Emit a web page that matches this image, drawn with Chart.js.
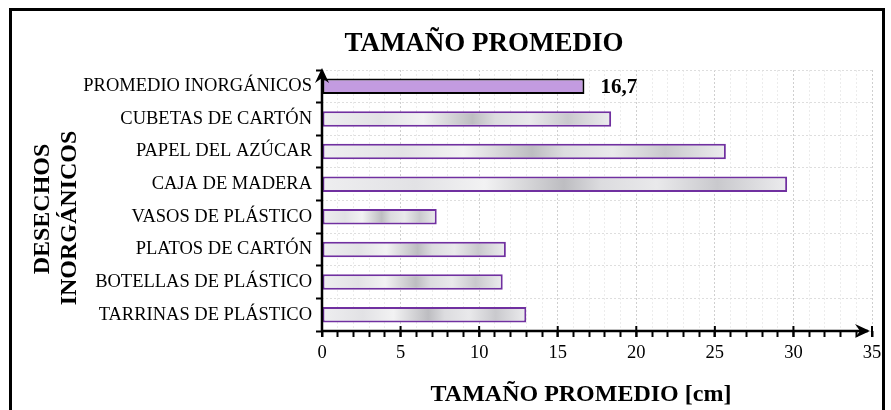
<!DOCTYPE html>
<html lang="es">
<head>
    <meta charset="UTF-8">
    <title>Tamaño promedio</title>
    <script src="https://cdn.jsdelivr.net/npm/chart.js"></script>
    <style>
        body { margin: 0; background: #fff; }
        .chart-box { width: 891px; height: 410px; }
    </style>
</head>
<body>
    <div class="chart-box">
        <canvas id="sizeChart" width="891" height="410"></canvas>
    </div>

    <script>
        // datos
        const categories = ['PROMEDIO INORGÁNICOS', 'CUBETAS DE CARTÓN', 'PAPEL DEL AZÚCAR', 'CAJA DE MADERA',
            'VASOS DE PLÁSTICO', 'PLATOS DE CARTÓN', 'BOTELLAS DE PLÁSTICO', 'TARRINAS DE PLÁSTICO'];
        const sizes = [16.7, 18.4, 25.7, 29.6, 7.3, 11.7, 11.5, 13.0];
        const averageLabel = '16,7';
        const xTicks = [0, 5, 10, 15, 20, 25, 30, 35];

        const serif = "'Liberation Serif', 'Times New Roman', serif";

        // relleno gris "marmol" de las barras
        function marbleFill(ctx) {
            const chart = ctx.chart;
            const xs = chart.scales.x;
            if (!xs || ctx.dataIndex === undefined) return '#e6e6e8';
            if (ctx.dataIndex === 0) return '#c39be0';
            const x0 = xs.getPixelForValue(0);
            const x1 = xs.getPixelForValue(sizes[ctx.dataIndex]);
            const g = chart.ctx.createLinearGradient(x0, 0, x1, 0);
            g.addColorStop(0, '#eeeef0');
            g.addColorStop(0.2, '#e2e2e5');
            g.addColorStop(0.35, '#f2f2f3');
            g.addColorStop(0.52, '#bdbdc1');
            g.addColorStop(0.6, '#dcdcdf');
            g.addColorStop(0.72, '#e9e9eb');
            g.addColorStop(0.85, '#c9c9cd');
            g.addColorStop(1, '#ececee');
            return g;
        }

        function arrowHead(ctx, x, y, angle) {
            ctx.save();
            ctx.translate(x, y);
            ctx.rotate(angle);
            ctx.beginPath();
            ctx.moveTo(0, 0);
            ctx.lineTo(-15, -7);
            ctx.lineTo(-10, 0);
            ctx.lineTo(-15, 7);
            ctx.closePath();
            ctx.fill();
            ctx.restore();
        }

        const decorations = {
            id: 'decorations',
            beforeDraw(chart) {
                const ctx = chart.ctx;
                ctx.save();
                ctx.fillStyle = '#fff';
                ctx.fillRect(0, 0, chart.width, chart.height);
                ctx.restore();
            },
            afterDraw(chart) {
                const ctx = chart.ctx;
                const area = chart.chartArea;
                const xs = chart.scales.x;
                ctx.save();

                // marco exterior
                ctx.strokeStyle = '#000';
                ctx.fillStyle = '#000';
                ctx.lineWidth = 3;
                ctx.strokeRect(10.5, 9.5, 873, 420);

                // ejes con flechas
                ctx.lineWidth = 2.5;
                ctx.beginPath();
                ctx.moveTo(area.left, area.bottom);
                ctx.lineTo(area.left, area.top + 4);
                ctx.moveTo(area.left, area.bottom);
                ctx.lineTo(area.right - 4, area.bottom);
                ctx.stroke();
                arrowHead(ctx, area.left, area.top - 2, -Math.PI / 2);
                arrowHead(ctx, area.right - 2, area.bottom, 0);

                // marcas mayores cruzando el eje
                ctx.lineWidth = 2;
                xTicks.forEach(v => {
                    const px = xs.getPixelForValue(v);
                    ctx.beginPath();
                    ctx.moveTo(px, area.bottom - 5);
                    ctx.lineTo(px, area.bottom + 6);
                    ctx.stroke();
                });

                // titulos
                ctx.textAlign = 'center';
                ctx.textBaseline = 'middle';
                ctx.font = 'bold 27px ' + serif;
                ctx.fillText('TAMAÑO PROMEDIO', 484, 44);
                ctx.font = 'bold 24px ' + serif;
                ctx.fillText('TAMAÑO PROMEDIO [cm]', 581, 395);

                ctx.font = 'bold 24px ' + serif;
                ctx.save();
                ctx.translate(43, 209);
                ctx.rotate(-Math.PI / 2);
                ctx.fillText('DESECHOS', 0, 0);
                ctx.restore();
                ctx.save();
                ctx.translate(70, 218);
                ctx.rotate(-Math.PI / 2);
                ctx.fillText('INORGÁNICOS', 0, 0);
                ctx.restore();

                // etiqueta del promedio
                const bar = chart.getDatasetMeta(0).data[0];
                ctx.font = 'bold 21px ' + serif;
                ctx.textAlign = 'left';
                ctx.fillText(averageLabel, bar.x + 16, bar.y + 1);

                ctx.restore();
            }
        };

        const ctx = document.getElementById('sizeChart').getContext('2d');
        new Chart(ctx, {
            type: 'bar',
            data: {
                labels: categories,
                datasets: [{
                    label: 'Tamaño promedio',
                    data: sizes,
                    backgroundColor: marbleFill,
                    borderColor: sizes.map((v, i) => i === 0 ? '#000' : '#7030a0'),
                    borderWidth: 2,
                    borderSkipped: false,
                    barPercentage: 0.86,
                    categoryPercentage: 0.55
                }]
            },
            options: {
                indexAxis: 'y',
                responsive: false,
                animation: false,
                layout: { padding: { top: 70, right: 19, left: 0, bottom: 0 } },
                plugins: {
                    legend: { display: false },
                    tooltip: { enabled: false },
                    title: { display: false }
                },
                scales: {
                    x: {
                        min: 0,
                        max: 35,
                        afterFit: s => { s.height = 79; },
                        ticks: {
                            stepSize: 1,
                            autoSkip: false,
                            maxRotation: 0,
                            padding: 5,
                            color: '#000',
                            font: { family: serif, size: 18.5 },
                            callback: v => (xTicks.includes(v) ? v : '')
                        },
                        grid: {
                            color: c => (c.tick && c.tick.value % 5 === 0 ? '#cfcfcf' : '#ececec'),
                            lineWidth: 1,
                            tickColor: '#000',
                            tickLength: 6,
                            tickWidth: 2
                        },
                        border: { display: false, dash: [2, 2] }
                    },
                    y: {
                        afterFit: s => { s.width = 322; },
                        ticks: {
                            padding: 4,
                            color: '#000',
                            font: { family: serif, size: 18.5 }
                        },
                        grid: {
                            offset: true,
                            color: '#dedede',
                            tickColor: '#000',
                            tickLength: 6,
                            tickWidth: 2
                        },
                        border: { display: false, dash: [2, 2] }
                    }
                }
            },
            plugins: [decorations]
        });
    </script>
</body>
</html>
